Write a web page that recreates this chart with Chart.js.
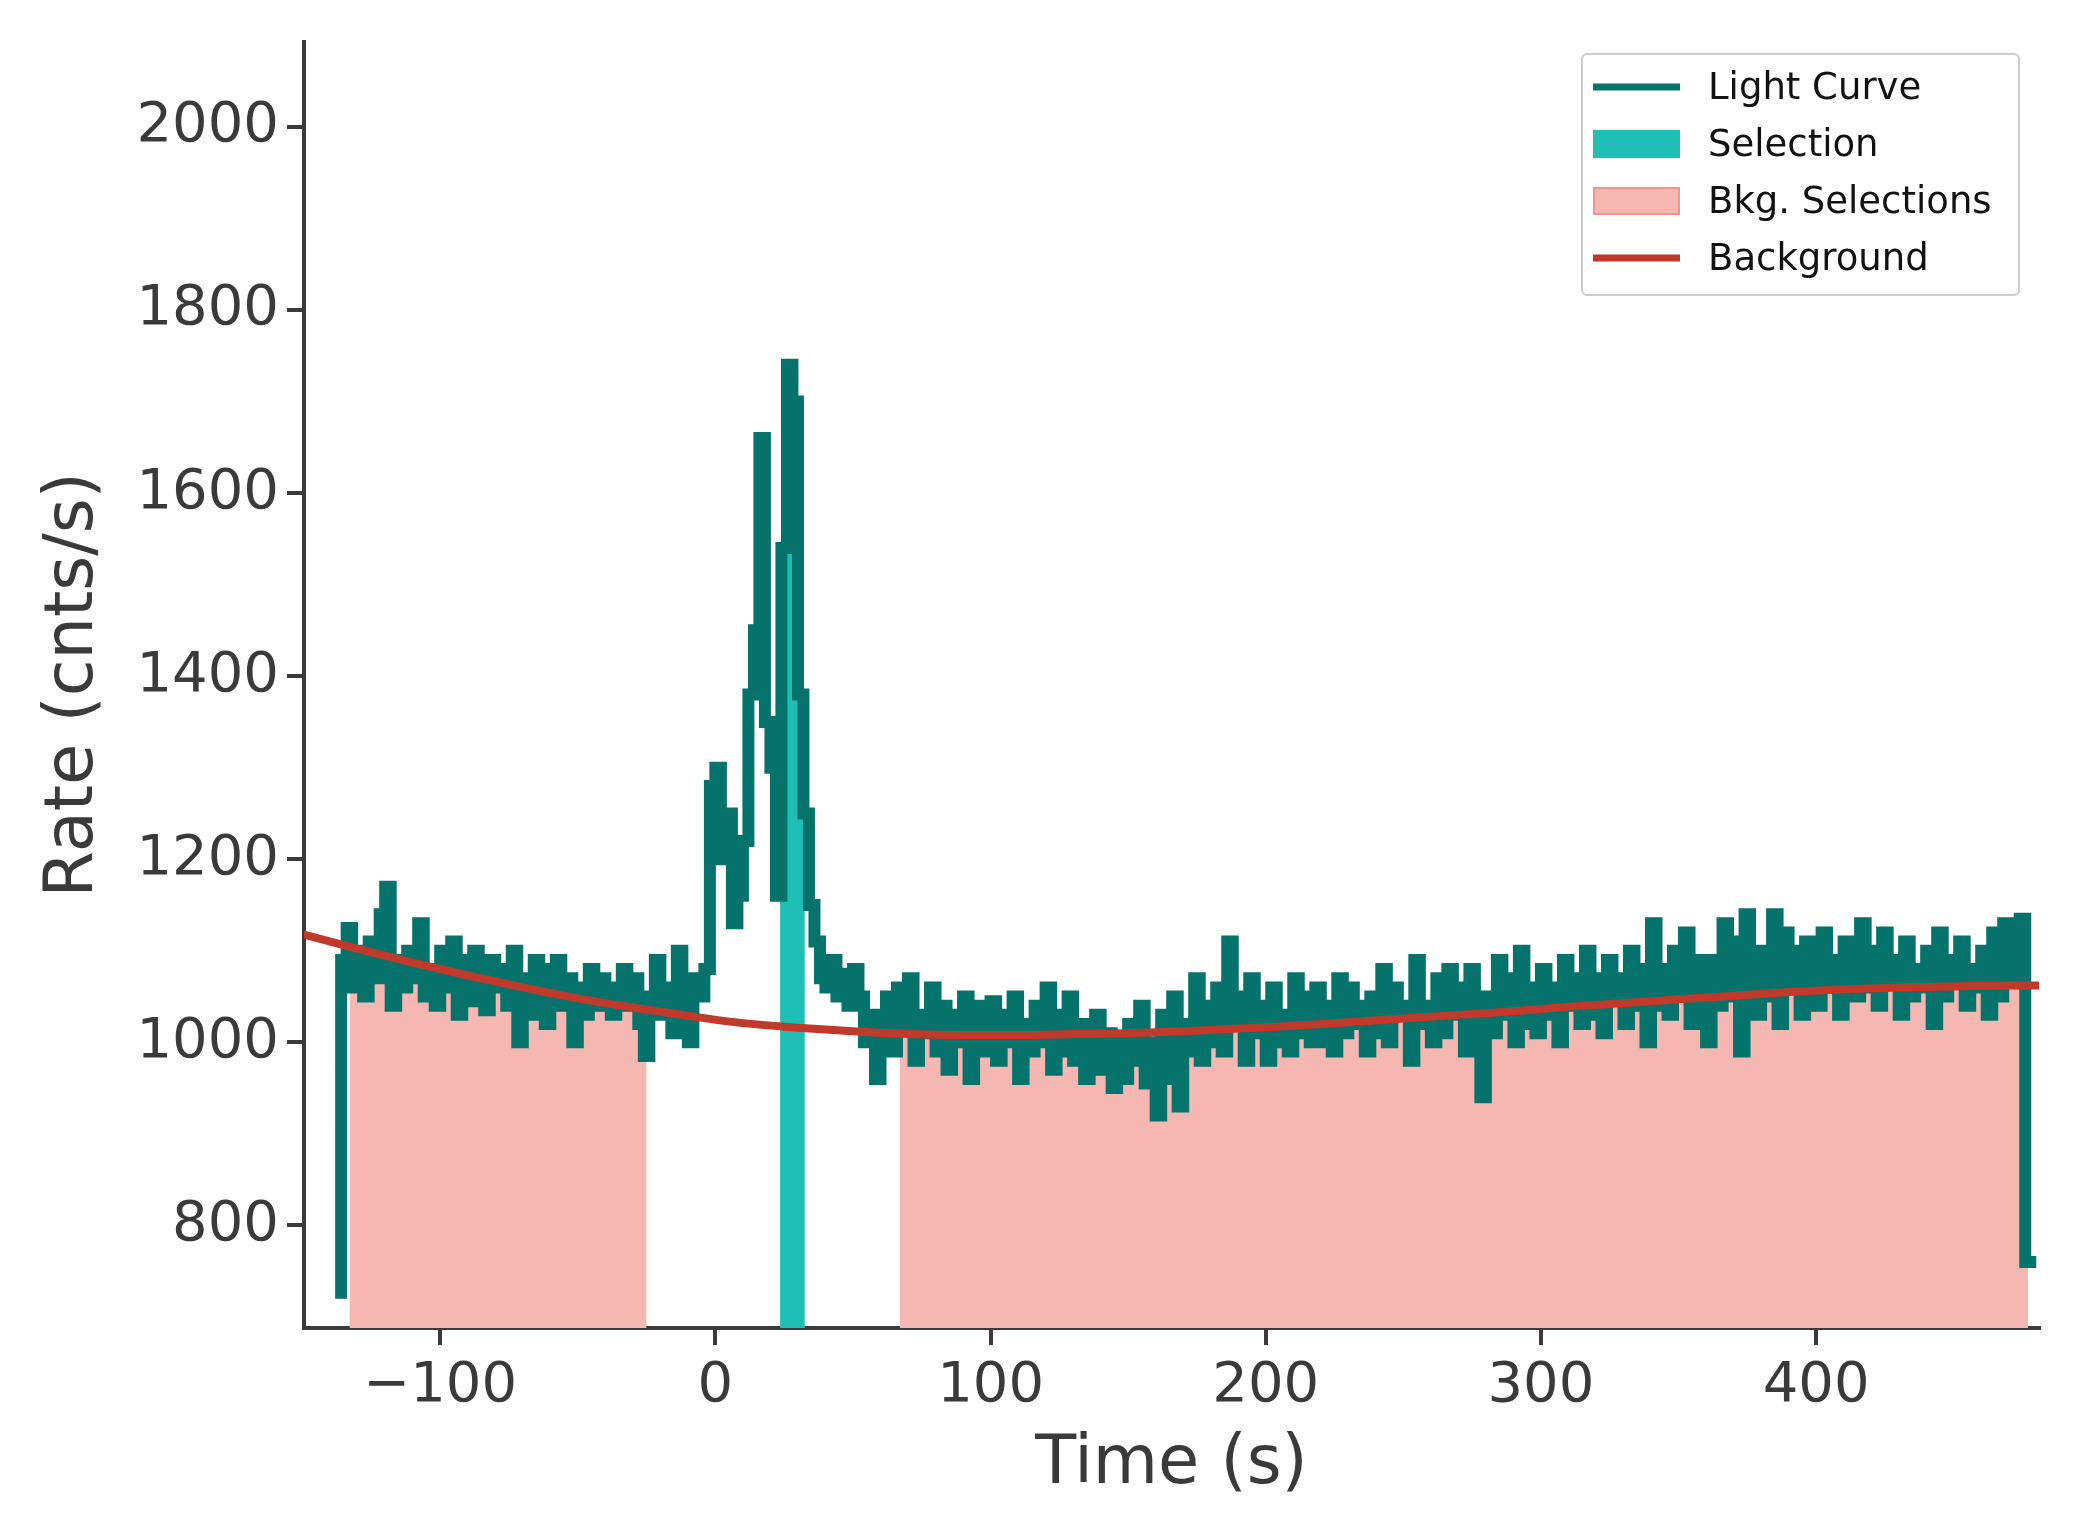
<!DOCTYPE html>
<html><head><meta charset="utf-8">
<script src="https://cdn.jsdelivr.net/npm/chart.js@4"></script>
<style>html,body{margin:0;padding:0;background:#fff}</style>
</head><body>
<canvas id="c" width="2073" height="1540"></canvas>
<script>
// ---- data ----
const binStart = -136, binWidth = 2;
const lcRates = [
 720,1090,1125,1060,1100,1050,1110,1070,1140,1170,
 1040,1090,1060,1100,1070,1130,1050,1080,1040,1100,
 1060,1110,1030,1090,1045,1100,1070,1035,1090,1060,
 1080,1040,1100,1000,1070,1030,1090,1060,1020,1080,
 1090,1040,1070,1000,1060,1030,1080,1040,1070,1050,
 1030,1060,1080,1040,1070,1020,985,1050,1090,1030,
 1060,1010,1100,1040,1000,1070,1050,1080,
 1280,1300,1200,1250,1130,1160,1220,1380,1450,1660,
 1350,1300,1160,1540,1740,1700,1380,1250,1150,1110,
 1070,1060,1090,1050,1075,1040,1080,1050,1000,1030,
 960,1000,1050,990,1060,1020,1070,980,1030,1010,
 1060,990,1040,970,1030,1000,1050,960,1020,1040,
 990,1045,980,1030,1000,1050,960,1020,990,1040,
 1000,1060,970,1030,990,1050,980,1020,960,1000,
 1030,970,1010,950,1000,960,1020,980,1040,955,
 1000,920,1030,960,1050,930,990,1020,1070,980,
 1040,1000,1060,990,1110,1020,1050,980,1070,1010,
 1040,980,1060,1000,1030,990,1070,1010,1050,1000,
 1060,1000,1040,990,1070,1010,1060,1020,1040,990,
 1050,1010,1080,1000,1060,1030,1040,980,1090,1020,
 1040,1000,1070,1010,1080,1030,1060,990,1080,1020,
 940,1050,1010,1090,1030,1070,1000,1100,1020,1060,
 1010,1080,1030,1060,1000,1090,1040,1070,1020,1100,
 1030,1070,1010,1090,1050,1070,1020,1100,1040,1080,
 1000,1130,1040,1080,1030,1100,1050,1120,1020,1090,
 1060,1000,1090,1040,1130,1050,1110,990,1140,1060,
 1030,1100,1050,1140,1020,1120,1060,1100,1030,1110,
 1070,1040,1120,1060,1090,1030,1110,1070,1050,1130,
 1060,1100,1040,1120,1070,1090,1030,1110,1050,1080,
 1060,1100,1020,1120,1050,1090,1070,1110,1040,1080,
 1060,1100,1030,1120,1050,1130,1070,1090,1135,760
];
const bkgTimes = [-150,-130,-110,-90,-70,-50,-30,-10,10,30,50,70,90,110,130,150,170,190,210,230,250,270,290,310,330,350,370,390,410,430,450,470,481];
const bkgRates = [1118,1102,1087,1073,1060,1048,1038,1029,1021,1016,1012,1009,1008,1008,1009,1010,1012,1015,1018,1022,1026,1030,1034,1039,1043,1047,1051,1055,1058,1060,1061,1062,1062];
const selectionRange = [23.5, 32.5];
const bkgRanges = [[-133, -25], [67, 477]];
const xTicks = [-100, 0, 100, 200, 300, 400];
const yTicks = [800, 1000, 1200, 1400, 1600, 1800, 2000];

// ---- build ----
const lcPts = lcRates.map((v,i)=>({x:binStart+i*binWidth, y:v}));
lcPts.push({x:binStart+lcRates.length*binWidth, y:lcRates[lcRates.length-1]});
function valAt(t){let i=Math.floor((t-binStart)/binWidth);i=Math.max(0,Math.min(lcRates.length-1,i));return lcRates[i];}
function clip(a,b){
  const pts=[{x:a,y:valAt(a)}];
  for(let i=0;i<lcRates.length;i++){const t=binStart+i*binWidth;if(t>a&&t<b)pts.push({x:t,y:lcRates[i]});}
  pts.push({x:b,y:valAt(b-1e-6)});return pts;
}
const fill = (pts,bg,bc)=>({data:pts,stepped:'after',fill:'start',backgroundColor:bg,borderColor:bc,borderWidth:2,pointRadius:0});
const datasets=[
 {data:bkgTimes.map((t,i)=>({x:t,y:bkgRates[i]})),borderColor:'#c0392b',borderWidth:8,pointRadius:0,cubicInterpolationMode:'monotone',fill:false},
 {data:lcPts,stepped:'after',borderColor:'#05736b',borderWidth:12,pointRadius:0,fill:false,borderJoinStyle:'miter'},
 fill(clip(selectionRange[0],selectionRange[1]),'#1fbfb6','#1fbfb6'),
 ...bkgRanges.map(r=>fill(clip(r[0],r[1]),'#f5b7b1','#f1948a'))
];
const txt='#3a3a3a';
const legendPlugin={id:'lg',afterDraw(ch){
  const c=ch.ctx;c.save();
  const x=1582,y=54,w=437,h=241;
  c.fillStyle='rgba(255,255,255,0.85)';c.strokeStyle='#cccccc';c.lineWidth=2;
  c.beginPath();c.roundRect(x,y,w,h,5);c.fill();c.stroke();
  const rows=[['Light Curve','line','#05736b'],['Selection','box','#1fbfb6'],['Bkg. Selections','box2','#f5b7b1'],['Background','line','#c0392b']];
  c.font='37px "DejaVu Sans"';c.textBaseline='middle';
  rows.forEach((r,i)=>{const yy=87+i*57;
    if(r[1]==='line'){c.strokeStyle=r[2];c.lineWidth=7;c.beginPath();c.moveTo(1593,yy);c.lineTo(1680,yy);c.stroke();}
    else{c.fillStyle=r[2];c.fillRect(1593,yy-14,87,28);if(r[1]==='box2'){c.strokeStyle='#f1948a';c.lineWidth=2;c.strokeRect(1594,yy-13,85,26);}}
    c.fillStyle='#111';c.fillText(r[0],1708,yy+2);});
  c.restore();}};
new Chart(document.getElementById('c'),{type:'line',data:{datasets},
 options:{responsive:false,animation:false,devicePixelRatio:1,
  layout:{padding:{top:26,right:34,left:30,bottom:30}},
  plugins:{legend:{display:false},tooltip:{enabled:false}},
  scales:{
   x:{type:'linear',min:-149.5,max:481,
     afterBuildTicks:a=>{a.ticks=xTicks.map(v=>({value:v}));},
     afterFit:a=>{a.height=182;},
     ticks:{color:txt,font:{size:56,family:'DejaVu Sans'},padding:8,callback:v=>String(v).replace('-','\u2212'),maxRotation:0,autoSkip:false},
     grid:{drawOnChartArea:false,color:txt,lineWidth:4,tickLength:17},
     border:{color:txt,width:4},
     title:{display:true,text:'Time (s)',color:txt,font:{size:67,family:'DejaVu Sans'},padding:{top:0}}},
   y:{min:688,max:2093,
     afterBuildTicks:a=>{a.ticks=yTicks.map(v=>({value:v}));},
     afterFit:a=>{a.width=274;},
     ticks:{color:txt,font:{size:56,family:'DejaVu Sans'},padding:8,autoSkip:false,callback:v=>String(v)},
     grid:{drawOnChartArea:false,color:txt,lineWidth:4,tickLength:17},
     border:{color:txt,width:4},
     title:{display:true,text:'Rate (cnts/s)',color:txt,font:{size:67,family:'DejaVu Sans'},padding:{bottom:0}}}
  }},
 plugins:[legendPlugin]});
</script></body></html>
